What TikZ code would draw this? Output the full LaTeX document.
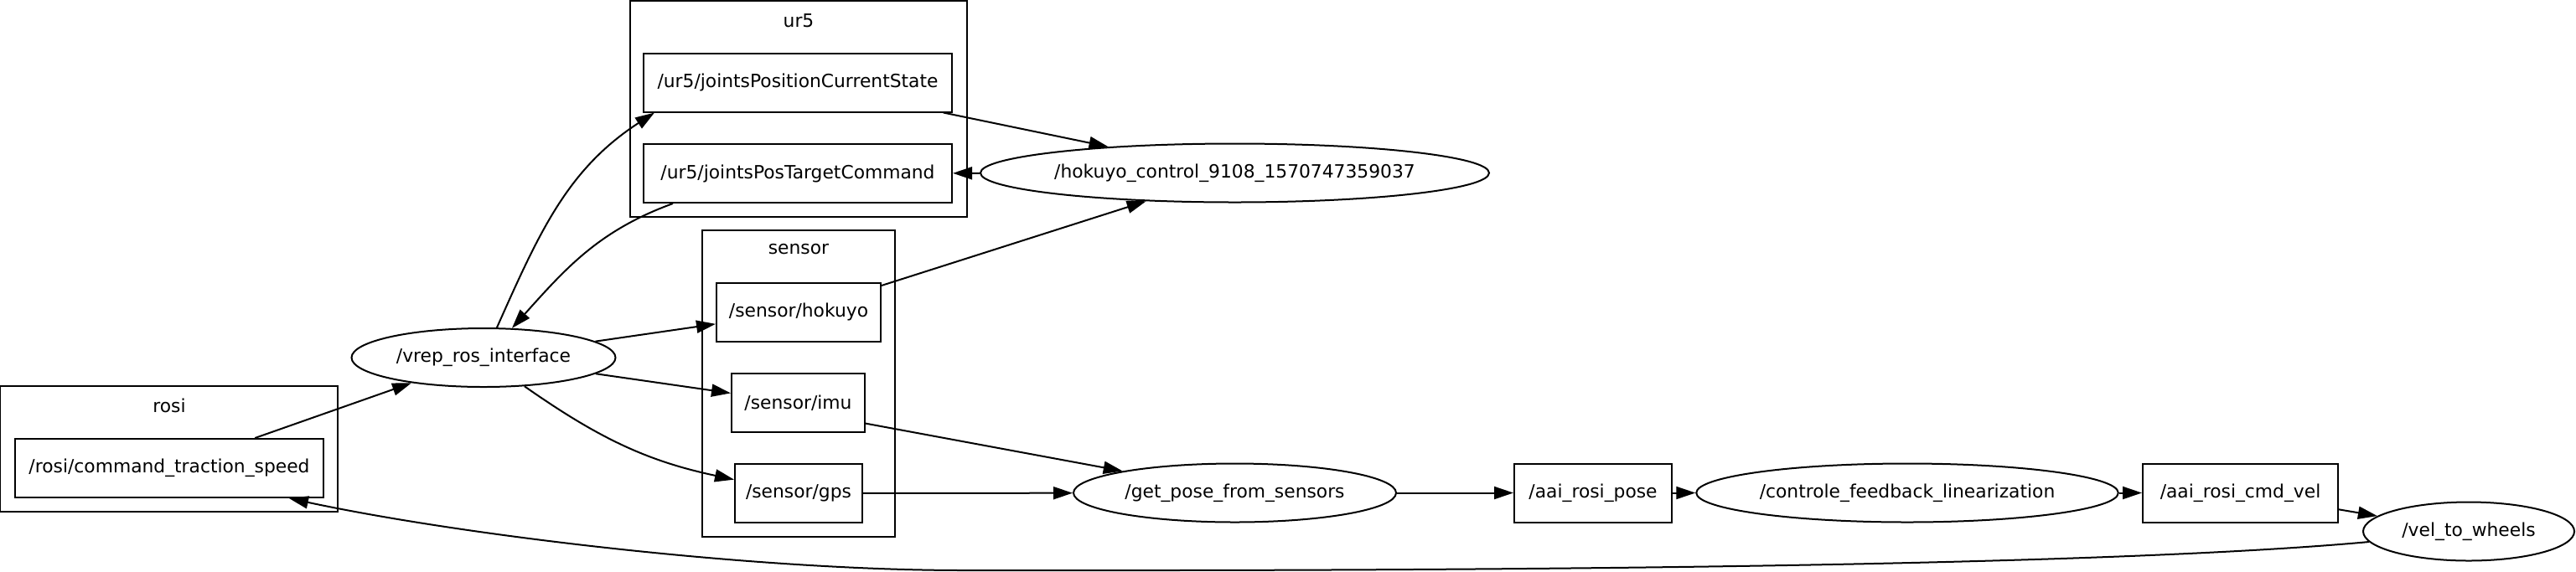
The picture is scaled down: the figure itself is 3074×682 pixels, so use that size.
\documentclass[tikz,border=0pt]{standalone}
\usepackage{fontspec}
\setmainfont{DejaVu Sans}
\usetikzlibrary{arrows.meta,shapes.geometric}
\tikzset{
  topic/.style={rectangle, draw, line width=1pt, minimum height=35pt, inner sep=0pt},
  rosnode/.style={ellipse, draw, line width=1pt, minimum height=35pt, inner sep=0pt, inner xsep=-4pt},
  cluster/.style={draw, line width=1pt},
  clusterlabel/.style={inner sep=0pt},
  edge/.style={line width=1pt, -{Triangle[length=11.5pt, width=7.5pt]}}
}

\begin{document}
\begin{tikzpicture}[x=0.5pt, y=-0.5pt, font=\fontsize{10.9}{13}\selectfont]
  \useasboundingbox (0,0) rectangle (3074,682);

  % clusters
  \draw[cluster] (0,461) rectangle (403,611);
  \node[clusterlabel] (rosilabel) at (202,484) {rosi};
  \draw[cluster] (752,1) rectangle (1154,259);
  \node[clusterlabel] (ur5label) at (953,25) {ur5};
  \draw[cluster] (838,275) rectangle (1068,641);
  \node[clusterlabel] (sensorlabel) at (953,298) {sensor};

  % topics and nodes
  \node[topic, minimum width=184pt] (rosicmd) at (202,559) {/rosi/command\_traction\_speed};
  \node[rosnode, minimum width=157.5pt] (vrep) at (577,427) {/vrep\_ros\_interface};
  \node[topic, minimum width=184pt] (jointstate) at (952,98.5) {/ur5/jointsPositionCurrentState};
  \node[topic, minimum width=184pt] (jointcmd) at (952,207) {/ur5/jointsPosTargetCommand};
  \node[rosnode, minimum width=303.5pt] (hokuyoctl) at (1473.5,206.5) {/hokuyo\_control\_9108\_1570747359037};
  \node[topic, minimum width=98pt] (hokuyo) at (953,372.5) {/sensor/hokuyo};
  \node[topic, minimum width=79.5pt] (imu) at (952.5,481) {/sensor/imu};
  \node[topic, minimum width=76pt] (gps) at (953,589) {/sensor/gps};
  \node[rosnode, minimum width=192.5pt] (getpose) at (1473.5,588.5) {/get\_pose\_from\_sensors};
  \node[topic, minimum width=94pt] (pose) at (1901,588.5) {/aai\_rosi\_pose};
  \node[rosnode, minimum width=251.75pt] (control) at (2276,588.5) {/controle\_feedback\_linearization};
  \node[topic, minimum width=116.5pt] (cmdvel) at (2673.5,588.5) {/aai\_rosi\_cmd\_vel};
  \node[rosnode, minimum width=126pt] (wheels) at (2946,634.5) {/vel\_to\_wheels};

  % connections
  \draw[edge] (rosicmd) -- (vrep);
  \draw[edge] (vrep.66) to[out=66, in=-147] ([xshift=7pt]jointstate.south west);
  \draw[edge] ([xshift=18pt]jointcmd.south west) to[out=-160, in=48] (vrep.46);
  \draw[edge] (jointstate) -- (hokuyoctl);
  \draw[edge] (hokuyoctl) -- (jointcmd);
  \draw[edge] (vrep) -- (hokuyo);
  \draw[edge] (vrep) -- (imu);
  \draw[edge] (vrep.-35) to[out=-35, in=168] (gps);
  \draw[edge] (hokuyo) -- (hokuyoctl);
  \draw[edge] (imu.-17) -- (getpose.169);
  \draw[edge] (gps) -- (getpose);
  \draw[edge] (getpose) -- (pose);
  \draw[edge] (pose) -- (control);
  \draw[edge] (control) -- (cmdvel);
  \draw[edge] (cmdvel) -- (wheels);
  \draw[edge] (wheels.186) .. controls (2424,684) and (1400,681) .. (1150,681)
    .. controls (900,681) and (550,639) .. ([xshift=-21pt]rosicmd.south east);
\end{tikzpicture}
\end{document}
